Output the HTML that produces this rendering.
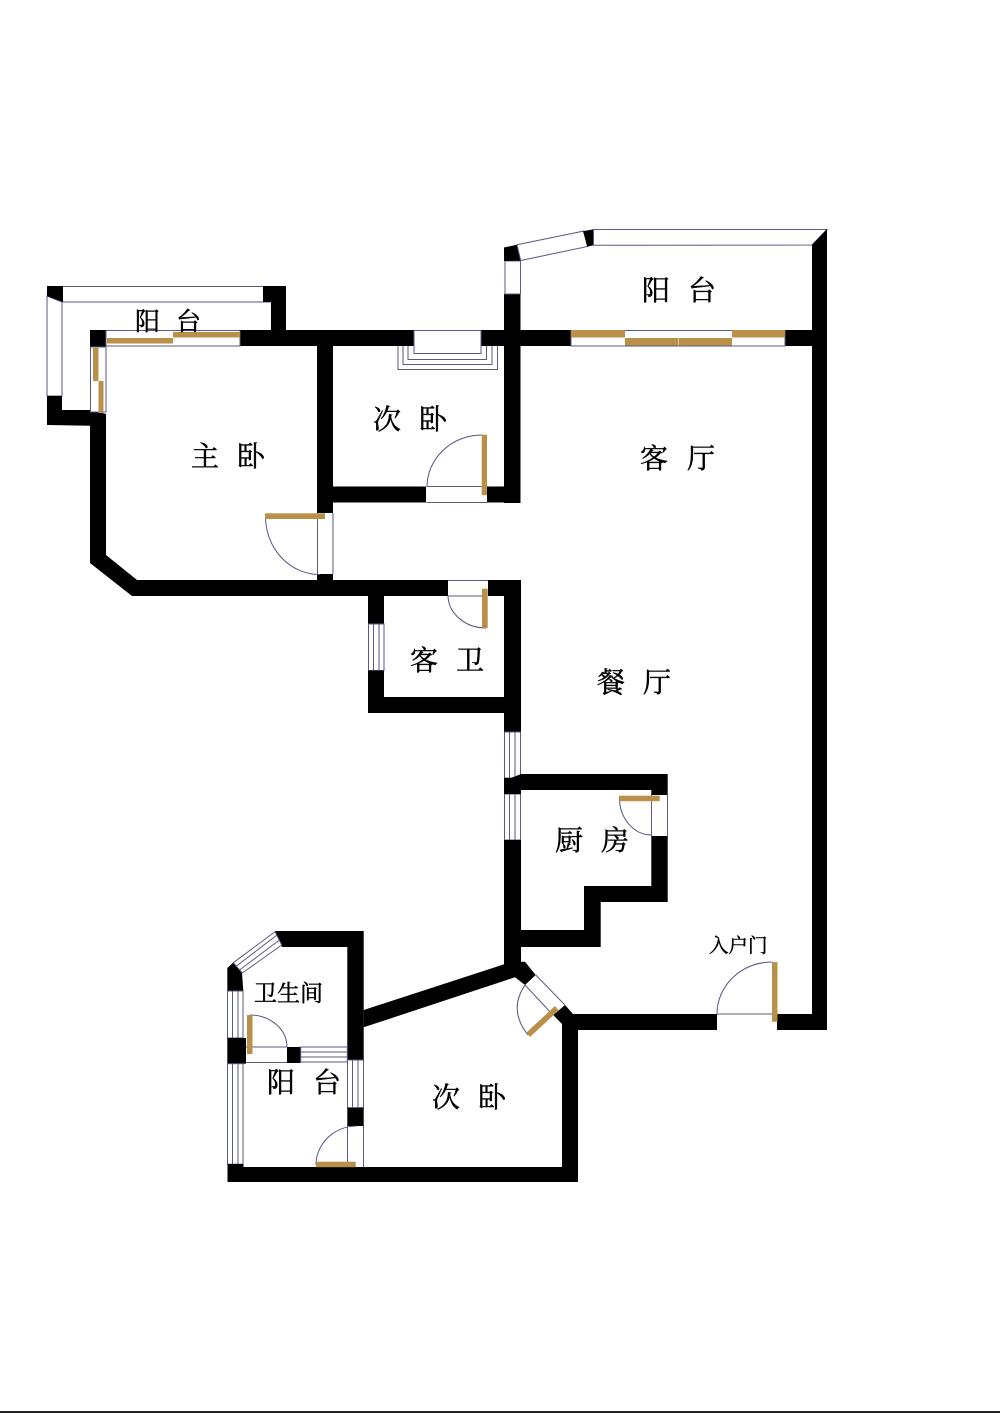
<!DOCTYPE html>
<html><head><meta charset="utf-8">
<style>
html,body{margin:0;padding:0;background:#fff}
body{width:1000px;height:1413px;overflow:hidden}
svg{display:block}
text{font-family:"Liberation Serif","Noto Serif CJK SC",serif;fill:#000;stroke:#000;stroke-width:.45}
.k{fill:#000;stroke:none}
.g{fill:#b8904a;stroke:none}
.l{fill:none;stroke:#5a5a80;stroke-width:1}
.f{fill:#fff;stroke:#5a5a80;stroke-width:1}
.a{fill:none;stroke:#55557f;stroke-width:1}
</style></head><body>
<svg width="1000" height="1413" viewBox="0 0 1000 1413" xmlns="http://www.w3.org/2000/svg">
<rect x="0" y="1411" width="1000" height="2" fill="#222"/>

<!-- top-left balcony -->
<rect class="f" x="62" y="286.5" width="202" height="15.5"/>
<polygon class="f" points="47,296 62,302 62,396 47,396"/>
<path class="l" d="M62,302H271"/>
<polygon class="k" points="47,286 63,286 63,302 47,296"/>
<polygon class="k" points="263,286 286,286 286,332 271,332 271,302 263,302"/>
<polygon class="k" points="47,396 62,396 62,410 91,410 106,414 106,426 47,425"/>

<!-- main walls -->
<rect class="k" x="90" y="330" width="16" height="17"/>
<rect class="k" x="240" y="330" width="174" height="16"/>
<rect class="k" x="481" y="330" width="90" height="16"/>
<rect class="k" x="785" y="330" width="28" height="16"/>
<rect class="f" x="90.5" y="347" width="15.5" height="65"/>
<rect class="f" x="106" y="330.5" width="134" height="15.5"/>
<polygon class="k" points="90,413 106,417 106,555 137,580 448,580 448,596 132,596 90,563"/>
<rect class="k" x="317" y="346" width="16" height="167"/>
<rect class="k" x="333" y="486.5" width="93" height="16"/>
<rect class="k" x="487" y="486.5" width="33" height="16"/>
<rect class="k" x="317" y="574" width="16" height="8"/>

<!-- divider & top-right balcony -->
<rect class="k" x="504" y="294" width="16.5" height="209"/>
<rect class="f" x="505" y="261" width="15.5" height="33"/>
<polygon class="k" points="504,247.5 517,244.7 520.7,260.5 504,261"/>
<polygon class="f" points="517,244.7 584,231 587.5,246.5 520.7,260.5"/>
<polygon class="k" points="583,231.3 593.5,229.3 593.5,245.3 587.3,246.7"/>
<polygon class="f" points="593.5,229.5 827,229.5 812,245 593.5,245.3"/>
<polygon class="k" points="827,229 827,1030 777,1030 777,1014 812,1014 812,245"/>

<!-- long wall windows -->
<rect class="f" x="571" y="330.5" width="214" height="15.5"/>
<rect class="g" x="571" y="330" width="54" height="7.5"/>
<rect class="g" x="625" y="338" width="53" height="7.5"/>
<rect class="g" x="678.5" y="338" width="53.5" height="7.5"/>
<rect class="g" x="732" y="330" width="53" height="7.5"/>
<rect class="g" x="107" y="338" width="66" height="5.5"/>
<rect class="g" x="173" y="332" width="67" height="5.5"/>
<rect class="g" x="93" y="348" width="5.5" height="33"/>
<rect class="g" x="98.5" y="381" width="5" height="32"/>

<!-- bay window -->
<path class="l" d="M398,346V369.5H497.5V346M403,346V364.5H492V346M408,346V359.5H486.5V346M414,346V353.5H481V346"/>
<rect x="414" y="330.5" width="67" height="15.5" class="f" stroke-width="1"/>
<rect x="414.5" y="345" width="66" height="2" fill="#fff"/>

<!-- 次卧 door -->
<path class="l" d="M426.5,486.5H487M426.5,502.5H487"/>
<path class="a" d="M482,435A55,52 0 0 0 427,487"/>
<rect class="g" x="481.7" y="434.7" width="5.3" height="60.5"/>

<!-- 主卧 door -->
<path class="l" d="M317.5,513V574M333,513V574"/>
<path class="a" d="M265.5,516A54,58 0 0 0 320,574.5"/>
<rect class="g" x="265" y="513.3" width="60" height="5.7"/>

<!-- 客卫 -->
<rect class="k" x="333" y="580" width="115" height="16"/>
<rect class="k" x="488" y="580" width="33" height="16"/>
<rect class="k" x="504" y="596" width="17" height="136"/>
<rect class="k" x="368" y="596" width="16" height="28"/>
<rect class="f" x="368.5" y="624" width="15.5" height="46.5"/>
<path class="l" d="M373.5,624V670M379,624V670"/>
<polygon class="k" points="368,670.5 384,670.5 384,697 504,697 504,713 368,713"/>
<path class="l" d="M448,580.5H488M448,596H485"/>
<path class="a" d="M448,596A38,33 0 0 0 486,628"/>
<rect class="g" x="482" y="588.7" width="5.7" height="39.3"/>

<!-- kitchen & spine -->
<rect class="f" x="504.5" y="732" width="16" height="46"/>
<path class="l" d="M509.5,732V778M515,732V778"/>
<rect class="f" x="504.5" y="794" width="16" height="46"/>
<path class="l" d="M509.5,794V840M515,794V840"/>
<polygon class="k" points="504,778 511,778 521,774 667.7,774 667.7,795 651.3,795 651.3,790 521,790 521,794 504,794"/>
<polygon class="k" points="504,840 521,840 521,930 584,930 584,886 651.3,886 651.3,836 667.7,836 667.7,902 600.7,902 600.7,947 521,947 521,962 504,966"/>
<path class="l" d="M651.5,795V836M667.5,795V836"/>
<path class="a" d="M619.5,798A32,37 0 0 0 651,835"/>
<rect class="g" x="619" y="795.7" width="40.7" height="5.5"/>

<!-- diagonal wall & bottom-right rooms -->
<polygon class="k" points="363.7,1010 505,964 505,961.7 525,961.7 535.7,975 525,985 515,977.3 363.7,1027.3"/>
<polygon class="k" points="565,1005 573,1014 717,1014 717,1030 578,1030 578,1182 227.5,1182 227.5,1167 562,1167 562,1024 553.3,1015"/>
<path class="l" d="M535.7,975L565,1005M525,985L553,1015"/>
<path class="a" d="M525,985Q508,1010 528,1035"/>
<polygon class="g" points="526.5,1032.5 555,1006 558.5,1010.5 530,1037"/>

<!-- entry door -->
<path class="l" d="M717,1014H772"/>
<path class="a" d="M772,962A55,52 0 0 0 717,1014"/>
<rect class="g" x="772" y="962" width="5.5" height="59.7"/>

<!-- 卫生间 -->
<polygon class="k" points="275,931 363.7,931 363.7,1060 347.3,1060 347.3,947 282,947"/>
<polygon class="k" points="233,962.7 242,973 243.3,990.7 227.3,990.7 227.3,968"/>
<polygon class="f" points="233.3,962.7 275,931.7 281.7,945 242.3,973"/>
<path class="l" d="M236.5,966L277,935M239.5,970L279.5,940"/>
<rect class="f" x="227.5" y="991" width="15.5" height="47"/>
<path class="l" d="M232.5,991V1038M238,991V1038"/>
<rect class="k" x="227.3" y="1038" width="18.7" height="25.7"/>
<rect class="k" x="287" y="1047" width="13.7" height="16"/>
<rect class="f" x="300.7" y="1047" width="46.6" height="15"/>
<path class="l" d="M300.7,1052H347M300.7,1057H347"/>
<path class="l" d="M246,1047H287M246,1062.5H287"/>
<path class="a" d="M250,1015A37,32 0 0 1 287,1047"/>
<rect class="g" x="247" y="1015" width="5.5" height="39"/>

<!-- lower balcony -->
<rect class="f" x="227.5" y="1063.7" width="15.5" height="100.5"/>
<path class="l" d="M232.5,1064V1164M238,1064V1164"/>
<rect class="k" x="227.5" y="1164" width="16" height="4"/>
<rect class="f" x="347.5" y="1060" width="16" height="47.7"/>
<path class="l" d="M352.5,1060V1107M358,1060V1107"/>
<rect class="k" x="347.3" y="1107.7" width="16.4" height="18.3"/>
<path class="l" d="M347.5,1126V1167M363.5,1126V1167"/>
<path class="a" d="M356.7,1126A41,39 0 0 0 316,1165"/>
<rect class="g" x="316" y="1161.7" width="39.7" height="5.5"/>

<!-- labels -->
<g font-size="25">
<text x="135" y="330">阳</text><text x="176" y="330">台</text>
</g>
<g font-size="28">
<text x="191" y="466">主</text><text x="237" y="466">卧</text>
<text x="373" y="429">次</text><text x="419" y="429">卧</text>
<text x="642" y="300">阳</text><text x="688" y="300">台</text>
<text x="640" y="468">客</text><text x="687" y="468">厅</text>
<text x="597" y="692">餐</text><text x="643" y="692">厅</text>
<text x="410" y="670">客</text><text x="456" y="670">卫</text>
<text x="555" y="850">厨</text><text x="601" y="850">房</text>
<text x="267" y="1092">阳</text><text x="313" y="1092">台</text>
<text x="432" y="1107">次</text><text x="478" y="1107">卧</text>
</g>
<text x="254" y="1001" font-size="23">卫生间</text>
<text x="709" y="952" font-size="19.5">入户门</text>
</svg>
</body></html>
